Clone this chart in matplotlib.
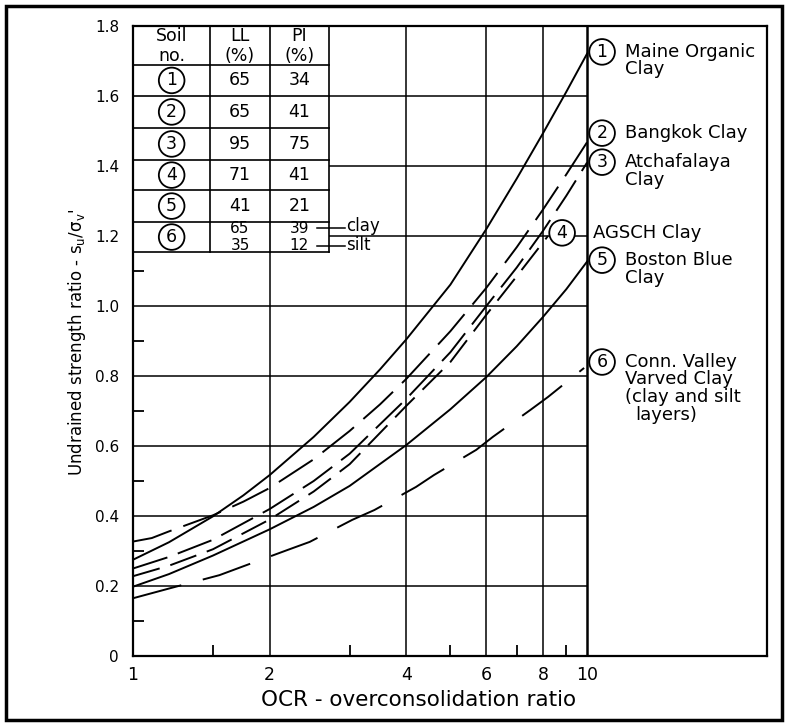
import matplotlib.pyplot as plt
from matplotlib.patches import Rectangle

plt.rcParams['font.family'] = ['DejaVu Sans']
plt.rcParams['lines.scale_dashes'] = False

# undrained strength ratio su/sv' against OCR for six clays
ocr_maine = [1.0, 1.2, 1.5, 1.75, 2.0, 2.5, 3.0, 3.5, 4.0, 5.0, 6.0, 7.0, 8.0, 9.0, 10.0]
su_maine = [0.275, 0.325, 0.399, 0.459, 0.517, 0.626, 0.726, 0.819, 0.905, 1.061, 1.22,
            1.364, 1.494, 1.612, 1.721]

ocr_bangkok = [1.0, 1.1, 1.2, 1.5, 1.75, 2.0, 2.5, 3.0, 3.5, 4.0, 5.0, 6.0, 7.0, 8.0, 9.0, 10.0]
su_bangkok = [0.327, 0.337, 0.356, 0.402, 0.441, 0.48, 0.562, 0.643, 0.719, 0.792, 0.928,
              1.052, 1.168, 1.276, 1.376, 1.468]

ocr_atchafalaya = [1.0, 1.2, 1.5, 2.0, 2.5, 3.0, 4.0, 5.0, 6.0, 7.0, 8.0, 9.0, 10.0]
su_atchafalaya = [0.25, 0.283, 0.332, 0.42, 0.50, 0.578, 0.735, 0.868, 1.0, 1.11, 1.215, 1.315, 1.41]

ocr_agsch = [1.0, 1.2, 1.5, 2.0, 2.5, 3.0, 4.0, 5.0, 6.0, 7.0, 8.2]
su_agsch = [0.228, 0.258, 0.305, 0.39, 0.47, 0.548, 0.715, 0.84, 0.975, 1.085, 1.2]

ocr_boston = [1.0, 1.2, 1.5, 2.0, 2.5, 3.0, 4.0, 5.0, 6.0, 7.0, 8.0, 9.0, 10.0]
su_boston = [0.198, 0.234, 0.287, 0.362, 0.426, 0.486, 0.603, 0.705, 0.797, 0.885, 0.969,
             1.048, 1.127]

ocr_conn = [1.0, 1.21, 1.55, 1.73, 2.19, 2.45, 3.04, 3.4, 4.2, 4.6, 5.7, 6.2, 7.5, 8.2, 9.85]
su_conn = [0.165, 0.194, 0.231, 0.254, 0.303, 0.326, 0.389, 0.417, 0.483, 0.517, 0.589,
           0.626, 0.703, 0.74, 0.823]

# table of index properties
soil_no = ['1', '2', '3', '4', '5', '6']
LL = ['65', '65', '95', '71', '41', '65\n35']
PI = ['34', '41', '75', '41', '21', '39\n12']

fig = plt.figure(figsize=(7.87, 7.26), dpi=100)
ax = fig.add_axes([133/787, 70/726, 634/787, 630/726])
ax.set_xscale('log')
ax.set_xlim(1, 24.9)
ax.set_ylim(0, 1.8)

# grid
for y in [0.2, 0.4, 0.6, 0.8, 1.0, 1.2, 1.4, 1.6]:
    ax.plot([1, 10], [y, y], color='black', lw=1.1, zorder=1)
for x in [2, 4, 6, 8]:
    ax.plot([x, x], [0, 1.8], color='black', lw=1.1, zorder=1)
ax.plot([10, 10], [0, 1.8], color='black', lw=1.8, zorder=1)

# curves
ax.plot(ocr_maine, su_maine, color='black', lw=1.4, zorder=3)
ax.plot(ocr_bangkok, su_bangkok, color='black', lw=1.4, dashes=(29, 9), zorder=3)
ax.plot(ocr_atchafalaya, su_atchafalaya, color='black', lw=1.4, dashes=(26, 8), zorder=3)
ax.plot(ocr_agsch, su_agsch, color='black', lw=1.4, dashes=(20, 8), zorder=3)
ax.plot(ocr_boston, su_boston, color='black', lw=1.4, zorder=3)
ax.plot(ocr_conn, su_conn, color='black', lw=1.4, dashes=(36, 16), zorder=3)

# axes and ticks
for s in ax.spines.values():
    s.set_linewidth(1.6)
ax.set_xticks([1, 2, 4, 6, 8, 10])
ax.set_xticklabels(['1', '2', '4', '6', '8', '10'], fontsize=12.5)
ax.set_xticks([1.5, 3, 5, 7, 9], minor=True)
ax.set_xticklabels([], minor=True)
ax.set_yticks([0, 0.2, 0.4, 0.6, 0.8, 1.0, 1.2, 1.4, 1.6, 1.8])
ax.set_yticklabels(['0', '0.2', '0.4', '0.6', '0.8', '1.0', '1.2', '1.4', '1.6', '1.8'],
                   fontsize=11)
ax.set_yticks([0.1, 0.3, 0.5, 0.7, 0.9, 1.1, 1.3, 1.5, 1.7], minor=True)
ax.tick_params(which='major', length=0)
ax.tick_params(axis='y', which='major', pad=10)
ax.tick_params(axis='x', which='major', pad=7)
ax.tick_params(which='minor', direction='in', length=8, width=1.3)

fig.text(419/787, 1 - 700/726, 'OCR - overconsolidation ratio', fontsize=15.5,
         ha='center', va='center')
fig.text(77/787, 1 - 342/726, "Undrained strength ratio - s$_\\mathregular{u}$/σ$_\\mathregular{v}$'",
         fontsize=12, rotation=90, ha='center', va='center')

# table
col_edges = [1, 1.48, 2.0, 2.7]
row_edges = [1.8, 1.689, 1.6, 1.509, 1.417, 1.331, 1.24, 1.154]
ax.add_patch(Rectangle((1, 1.154), 1.7, 0.646, fc='white', ec='none', zorder=2))
for x in col_edges[1:]:
    ax.plot([x, x], [row_edges[-1], 1.8], color='black', lw=1.2, zorder=2.2)
for y in row_edges[1:]:
    ax.plot([1, 2.7], [y, y], color='black', lw=1.2, zorder=2.2)
xc = [(col_edges[i] * col_edges[i + 1]) ** 0.5 for i in range(3)]
for x, head in zip(xc, [('Soil', 'no.'), ('LL', '(%)'), ('PI', '(%)')]):
    ax.text(x, 1.771, head[0], ha='center', va='center', fontsize=12.5, zorder=4)
    ax.text(x, 1.713, head[1], ha='center', va='center', fontsize=12.5, zorder=4)
circ = dict(boxstyle='circle,pad=0.22', fc='white', ec='black', lw=1.3)
for i in range(6):
    yc = (row_edges[i + 1] + row_edges[i + 2]) / 2
    ax.text(xc[0], yc, soil_no[i], ha='center', va='center', fontsize=12.5, bbox=circ, zorder=4)
    if i < 5:
        ax.text(xc[1], yc, LL[i], ha='center', va='center', fontsize=12.5, zorder=4)
        ax.text(xc[2], yc, PI[i], ha='center', va='center', fontsize=12.5, zorder=4)
    else:
        for j, dy in enumerate([0.024, -0.024]):
            ax.text(xc[1], yc + dy, LL[i].split('\n')[j], ha='center', va='center',
                    fontsize=11, zorder=4)
            ax.text(xc[2], yc + dy, PI[i].split('\n')[j], ha='center', va='center',
                    fontsize=11, zorder=4)
ax.plot([2.54, 2.93], [1.223, 1.223], color='black', lw=1.1, zorder=4)
ax.plot([2.54, 2.93], [1.172, 1.172], color='black', lw=1.1, zorder=4)
ax.text(2.95, 1.228, 'clay', ha='left', va='center', fontsize=12, zorder=4)
ax.text(2.95, 1.174, 'silt', ha='left', va='center', fontsize=12, zorder=4)

# curve labels on the right
labels = [('1', 1.726, ['Maine Organic', 'Clay']),
          ('2', 1.494, ['Bangkok Clay']),
          ('3', 1.411, ['Atchafalaya', 'Clay']),
          ('5', 1.131, ['Boston Blue', 'Clay']),
          ('6', 0.84, ['Conn. Valley', 'Varved Clay', '(clay and silt', 'layers)'])]
for num, y, lines in labels:
    ax.text(10.79, y, num, ha='center', va='center', fontsize=12.5, bbox=circ, zorder=4)
    for k, line in enumerate(lines):
        x = 12.76 if line == 'layers)' else 12.1
        ax.text(x, y - 0.05 * k, line, ha='left', va='center', fontsize=13, zorder=4)
ax.text(8.81, 1.209, '4', ha='center', va='center', fontsize=12.5, bbox=circ, zorder=4)
ax.text(10.3, 1.209, 'AGSCH Clay', ha='left', va='center', fontsize=13, zorder=4)

# outer border
fig.patches.append(Rectangle((6/787, 6/726), 776/787, 714/726, transform=fig.transFigure,
                             fill=False, ec='black', lw=2.5))

fig.savefig('out.png', dpi=100)
